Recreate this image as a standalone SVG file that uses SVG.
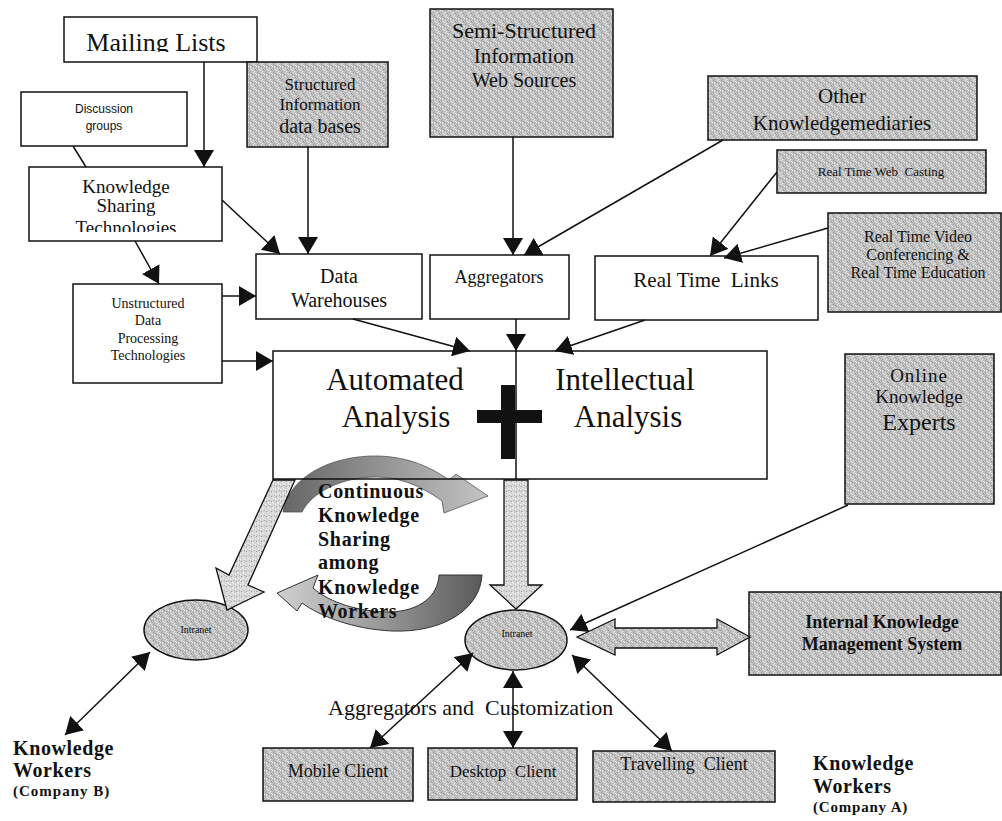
<svg xmlns="http://www.w3.org/2000/svg" width="1002" height="821" viewBox="0 0 1002 821">
  <style>
    .box { fill: #ffffff; stroke: #111; stroke-width: 1.5; }
    .gbox { fill: url(#grain); stroke: #111; stroke-width: 1.5; }
    .t { font-family: "Liberation Serif", "Times New Roman", serif; fill: #111; text-anchor: middle; white-space: pre; }
    .s { font-family: "Liberation Sans", Arial, sans-serif; fill: #111; text-anchor: middle; }
    .b { font-weight: bold; }
    .l { text-anchor: start; }
    .conn line { stroke: #111; stroke-width: 1.5; fill: none; }
    .blk { fill: url(#lightgrain); stroke: #111; stroke-width: 1.3; }
  </style>
  <defs>
    <pattern id="grain" width="8" height="8" patternUnits="userSpaceOnUse">
      <rect width="8" height="8" fill="#c2c2c2"/>
      <rect x="1" y="0" width="1" height="1" fill="#8e8e8e"/>
      <rect x="5" y="0" width="1" height="1" fill="#e6e6e6"/>
      <rect x="3" y="1" width="1" height="1" fill="#a0a0a0"/>
      <rect x="7" y="1" width="1" height="1" fill="#dcdcdc"/>
      <rect x="0" y="2" width="1" height="1" fill="#ededed"/>
      <rect x="4" y="2" width="1" height="1" fill="#979797"/>
      <rect x="2" y="3" width="1" height="1" fill="#e0e0e0"/>
      <rect x="6" y="3" width="1" height="1" fill="#9c9c9c"/>
      <rect x="1" y="4" width="1" height="1" fill="#a6a6a6"/>
      <rect x="5" y="4" width="1" height="1" fill="#f0f0f0"/>
      <rect x="3" y="5" width="1" height="1" fill="#e4e4e4"/>
      <rect x="7" y="5" width="1" height="1" fill="#939393"/>
      <rect x="0" y="6" width="1" height="1" fill="#9a9a9a"/>
      <rect x="4" y="6" width="1" height="1" fill="#dadada"/>
      <rect x="2" y="7" width="1" height="1" fill="#a3a3a3"/>
      <rect x="6" y="7" width="1" height="1" fill="#ebebeb"/>
    </pattern>
    <pattern id="lightgrain" width="5" height="5" patternUnits="userSpaceOnUse">
      <rect width="5" height="5" fill="#d6d6d6"/>
      <rect x="1" y="1" width="1" height="1" fill="#a0a0a0"/>
      <rect x="3" y="3" width="1" height="1" fill="#f5f5f5"/>
      <rect x="4" y="0" width="1" height="1" fill="#b0b0b0"/>
      <rect x="0" y="4" width="1" height="1" fill="#fafafa"/>
      <rect x="2" y="2" width="1" height="1" fill="#ececec"/>
    </pattern>
    <linearGradient id="arcTop" x1="0" y1="0" x2="1" y2="0">
      <stop offset="0" stop-color="#666"/>
      <stop offset="0.5" stop-color="#959595"/>
      <stop offset="1" stop-color="#c4c4c4"/>
    </linearGradient>
    <linearGradient id="arcBottom" x1="0" y1="0" x2="1" y2="0">
      <stop offset="0" stop-color="#d0d0d0"/>
      <stop offset="0.5" stop-color="#999"/>
      <stop offset="1" stop-color="#5a5a5a"/>
    </linearGradient>
    <marker id="ah" viewBox="0 0 17 20" refX="17" refY="10" markerWidth="17" markerHeight="20" markerUnits="userSpaceOnUse" orient="auto-start-reverse">
      <path d="M0,0 L17,10 L0,20 Z" fill="#111"/>
    </marker>
    <clipPath id="clipMail"><rect x="64" y="17" width="193" height="35"/></clipPath>
    <clipPath id="clipKst"><rect x="29" y="167" width="193" height="65"/></clipPath>
  </defs>

  <rect width="1002" height="821" fill="#ffffff"/>

  <!-- sharing cycle arrows, drawn beneath the analysis frame -->
  <g id="cycle">
    <path d="M283,512 C288,478 330,455 378,456 C410,457 432,468 449,480 L456,474 L488,496 L444,513 L442,501 C424,488 402,477 376,477 C342,477 312,492 302,512 Z" fill="url(#arcTop)" stroke="#555" stroke-width="0.8"/>
    <path d="M482,575 C480,610 442,633 392,631 C352,629 320,616 302,603 L297,611 L277,593 L318,575 L313,588 C330,603 360,612 390,612 C420,611 438,596 439,575 Z" fill="url(#arcBottom)" stroke="#333" stroke-width="1"/>
  </g>

  <g id="mailing-lists">
    <rect class="box" x="64" y="17" width="193" height="45"/>
    <text class="t" x="156" y="51" font-size="26" clip-path="url(#clipMail)">Mailing Lists</text>
  </g>

  <g id="discussion-groups">
    <rect class="box" x="21" y="92" width="166" height="54"/>
    <text class="s" x="104" y="113" font-size="12">Discussion</text>
    <text class="s" x="104" y="130" font-size="12">groups</text>
  </g>

  <g id="knowledge-sharing">
    <rect class="box" x="29" y="167" width="193" height="74"/>
    <g clip-path="url(#clipKst)">
      <text class="t" x="126" y="193" font-size="19">Knowledge</text>
      <text class="t" x="126" y="212" font-size="19">Sharing</text>
      <text class="t" x="126" y="234" font-size="19">Technologies</text>
    </g>
  </g>

  <g id="structured-info">
    <rect class="gbox" x="247" y="62" width="141" height="85"/>
    <text class="t" x="320" y="90" font-size="17">Structured</text>
    <text class="t" x="320" y="110" font-size="17">Information</text>
    <text class="t" x="320" y="133" font-size="20">data bases</text>
  </g>

  <g id="semi-structured">
    <rect class="gbox" x="430" y="9" width="183" height="128"/>
    <text class="t" x="524" y="38" font-size="22">Semi-Structured</text>
    <text class="t" x="524" y="63" font-size="21">Information</text>
    <text class="t" x="524" y="87" font-size="20">Web Sources</text>
  </g>

  <g id="other-knowledgemediaries">
    <rect class="gbox" x="708" y="76" width="269" height="64"/>
    <text class="t" x="842" y="103" font-size="21">Other</text>
    <text class="t" x="842" y="130" font-size="21">Knowledgemediaries</text>
  </g>

  <g id="web-casting">
    <rect class="gbox" x="777" y="150" width="209" height="43"/>
    <text class="t" x="881" y="176" font-size="13">Real Time Web  Casting</text>
  </g>

  <g id="video-conferencing">
    <rect class="gbox" x="828" y="213" width="173" height="99"/>
    <text class="t" x="918" y="242" font-size="16">Real Time Video</text>
    <text class="t" x="918" y="260" font-size="16">Conferencing &amp;</text>
    <text class="t" x="918" y="278" font-size="16">Real Time Education</text>
  </g>

  <g id="data-warehouses">
    <rect class="box" x="256" y="254" width="166" height="65"/>
    <text class="t" x="339" y="283" font-size="20">Data</text>
    <text class="t" x="339" y="307" font-size="20">Warehouses</text>
  </g>

  <g id="aggregators">
    <rect class="box" x="430" y="255" width="139" height="64"/>
    <text class="t" x="499" y="283" font-size="18">Aggregators</text>
  </g>

  <g id="real-time-links">
    <rect class="box" x="595" y="256" width="223" height="64"/>
    <text class="t" x="706" y="287" font-size="21">Real Time  Links</text>
  </g>

  <g id="unstructured-processing">
    <rect class="box" x="73" y="284" width="149" height="99"/>
    <text class="t" x="148" y="308" font-size="14">Unstructured</text>
    <text class="t" x="148" y="325" font-size="14">Data</text>
    <text class="t" x="148" y="343" font-size="14">Processing</text>
    <text class="t" x="148" y="360" font-size="14">Technologies</text>
  </g>

  <g id="analysis">
    <rect x="273" y="351" width="494" height="128" fill="none" stroke="#111" stroke-width="1.5"/>
    <line x1="516" y1="351" x2="516" y2="479" stroke="#111" stroke-width="1.5"/>
    <text class="t" x="395" y="390" font-size="31">Automated</text>
    <text class="t" x="396" y="427" font-size="31">Analysis</text>
    <text class="t" x="625" y="390" font-size="31">Intellectual</text>
    <text class="t" x="628" y="427" font-size="31">Analysis</text>
    <rect x="501" y="385" width="14" height="74" fill="#111"/>
    <rect x="477" y="410" width="65" height="13" fill="#111"/>
  </g>

  <g id="online-experts">
    <rect class="gbox" x="845" y="354" width="149" height="150"/>
    <text class="t" x="919" y="382" font-size="19" letter-spacing="1">Online</text>
    <text class="t" x="919" y="403" font-size="19">Knowledge</text>
    <text class="t" x="919" y="430" font-size="24">Experts</text>
  </g>

  <g id="intranet-b">
    <ellipse cx="196" cy="630" rx="52" ry="30" fill="url(#grain)" stroke="#111" stroke-width="1.5"/>
    <text class="t" x="196" y="633" font-size="10">Intranet</text>
  </g>

  <g id="intranet-a">
    <ellipse cx="516" cy="640" rx="51" ry="30" fill="url(#grain)" stroke="#111" stroke-width="1.5"/>
    <text class="t" x="517" y="637" font-size="10">Intranet</text>
  </g>

  <g id="internal-kms">
    <rect class="gbox" x="749" y="592" width="252" height="83"/>
    <text class="t b" x="882" y="628" font-size="18">Internal Knowledge</text>
    <text class="t b" x="882" y="650" font-size="18">Management System</text>
  </g>

  <g id="mobile-client">
    <rect class="gbox" x="263" y="748" width="150" height="53"/>
    <text class="t" x="338" y="777" font-size="18">Mobile Client</text>
  </g>

  <g id="desktop-client">
    <rect class="gbox" x="428" y="748" width="149" height="52"/>
    <text class="t" x="503" y="777" font-size="17">Desktop  Client</text>
  </g>

  <g id="travelling-client">
    <rect class="gbox" x="593" y="751" width="182" height="51"/>
    <text class="t" x="684" y="770" font-size="18">Travelling  Client</text>
  </g>

  <g id="workers-b">
    <text class="t b l" x="13" y="755" font-size="20" letter-spacing="0.6">Knowledge</text>
    <text class="t b l" x="13" y="777" font-size="20" letter-spacing="0.6">Workers</text>
    <text class="t b l" x="13" y="796" font-size="15" letter-spacing="1">(Company B)</text>
  </g>

  <g id="workers-a">
    <text class="t b l" x="813" y="770" font-size="20" letter-spacing="0.6">Knowledge</text>
    <text class="t b l" x="813" y="793" font-size="20" letter-spacing="0.6">Workers</text>
    <text class="t b l" x="813" y="812" font-size="15" letter-spacing="0.8">(Company A)</text>
  </g>

  <g id="aggregation-label">
    <text class="t l" x="328" y="715" font-size="22">Aggregators and  Customization</text>
  </g>

  <!-- connectors -->
  <g id="connectors" class="conn">
    <line x1="204" y1="62" x2="204" y2="167" marker-end="url(#ah)"/>
    <line x1="73" y1="146" x2="86" y2="167"/>
    <line x1="308" y1="147" x2="308" y2="254" marker-end="url(#ah)"/>
    <line x1="222" y1="200" x2="280" y2="254" marker-end="url(#ah)"/>
    <line x1="135" y1="241" x2="159" y2="284" marker-end="url(#ah)"/>
    <line x1="222" y1="296" x2="256" y2="296" marker-end="url(#ah)"/>
    <line x1="222" y1="361" x2="273" y2="361" marker-end="url(#ah)"/>
    <line x1="513" y1="137" x2="513" y2="255" marker-end="url(#ah)"/>
    <line x1="723" y1="140" x2="524" y2="255" marker-end="url(#ah)"/>
    <line x1="777" y1="172" x2="710" y2="256" marker-end="url(#ah)"/>
    <line x1="828" y1="228" x2="724" y2="258" marker-end="url(#ah)"/>
    <line x1="353" y1="319" x2="470" y2="351" marker-end="url(#ah)"/>
    <line x1="516" y1="319" x2="516" y2="351" marker-end="url(#ah)"/>
    <line x1="645" y1="320" x2="555" y2="351" marker-end="url(#ah)"/>
    <line x1="848" y1="505" x2="570" y2="630" marker-end="url(#ah)"/>
    <line x1="150" y1="652" x2="65" y2="735" marker-start="url(#ah)" marker-end="url(#ah)"/>
    <line x1="473" y1="653" x2="370" y2="748" marker-start="url(#ah)" marker-end="url(#ah)"/>
    <line x1="513" y1="671" x2="513" y2="748" marker-start="url(#ah)" marker-end="url(#ah)"/>
    <line x1="572" y1="655" x2="672" y2="751" marker-start="url(#ah)" marker-end="url(#ah)"/>
    <polygon class="blk" points="504,480 528,480 528,585 542,585 516,609 490,585 504,585"/>
    <polygon class="blk" points="273,480 295,480 248,585 264,592 227,610 216,568 229,575"/>
    <polygon points="577,637 615,619 615,628 717,628 717,619 750,637 717,655 717,648 615,648 615,655" fill="url(#grain)" stroke="#111" stroke-width="1.3"/>
  </g>

  <g id="cycle-label">
    <text class="t b l" x="318" y="498" font-size="20" letter-spacing="0.7">Continuous</text>
    <text class="t b l" x="318" y="522" font-size="20" letter-spacing="0.7">Knowledge</text>
    <text class="t b l" x="318" y="546" font-size="20" letter-spacing="0.7">Sharing</text>
    <text class="t b l" x="318" y="569" font-size="20" letter-spacing="0.7">among</text>
    <text class="t b l" x="318" y="594" font-size="20" letter-spacing="0.7">Knowledge</text>
    <text class="t b l" x="318" y="618" font-size="20" letter-spacing="0.7">Workers</text>
  </g>
</svg>
